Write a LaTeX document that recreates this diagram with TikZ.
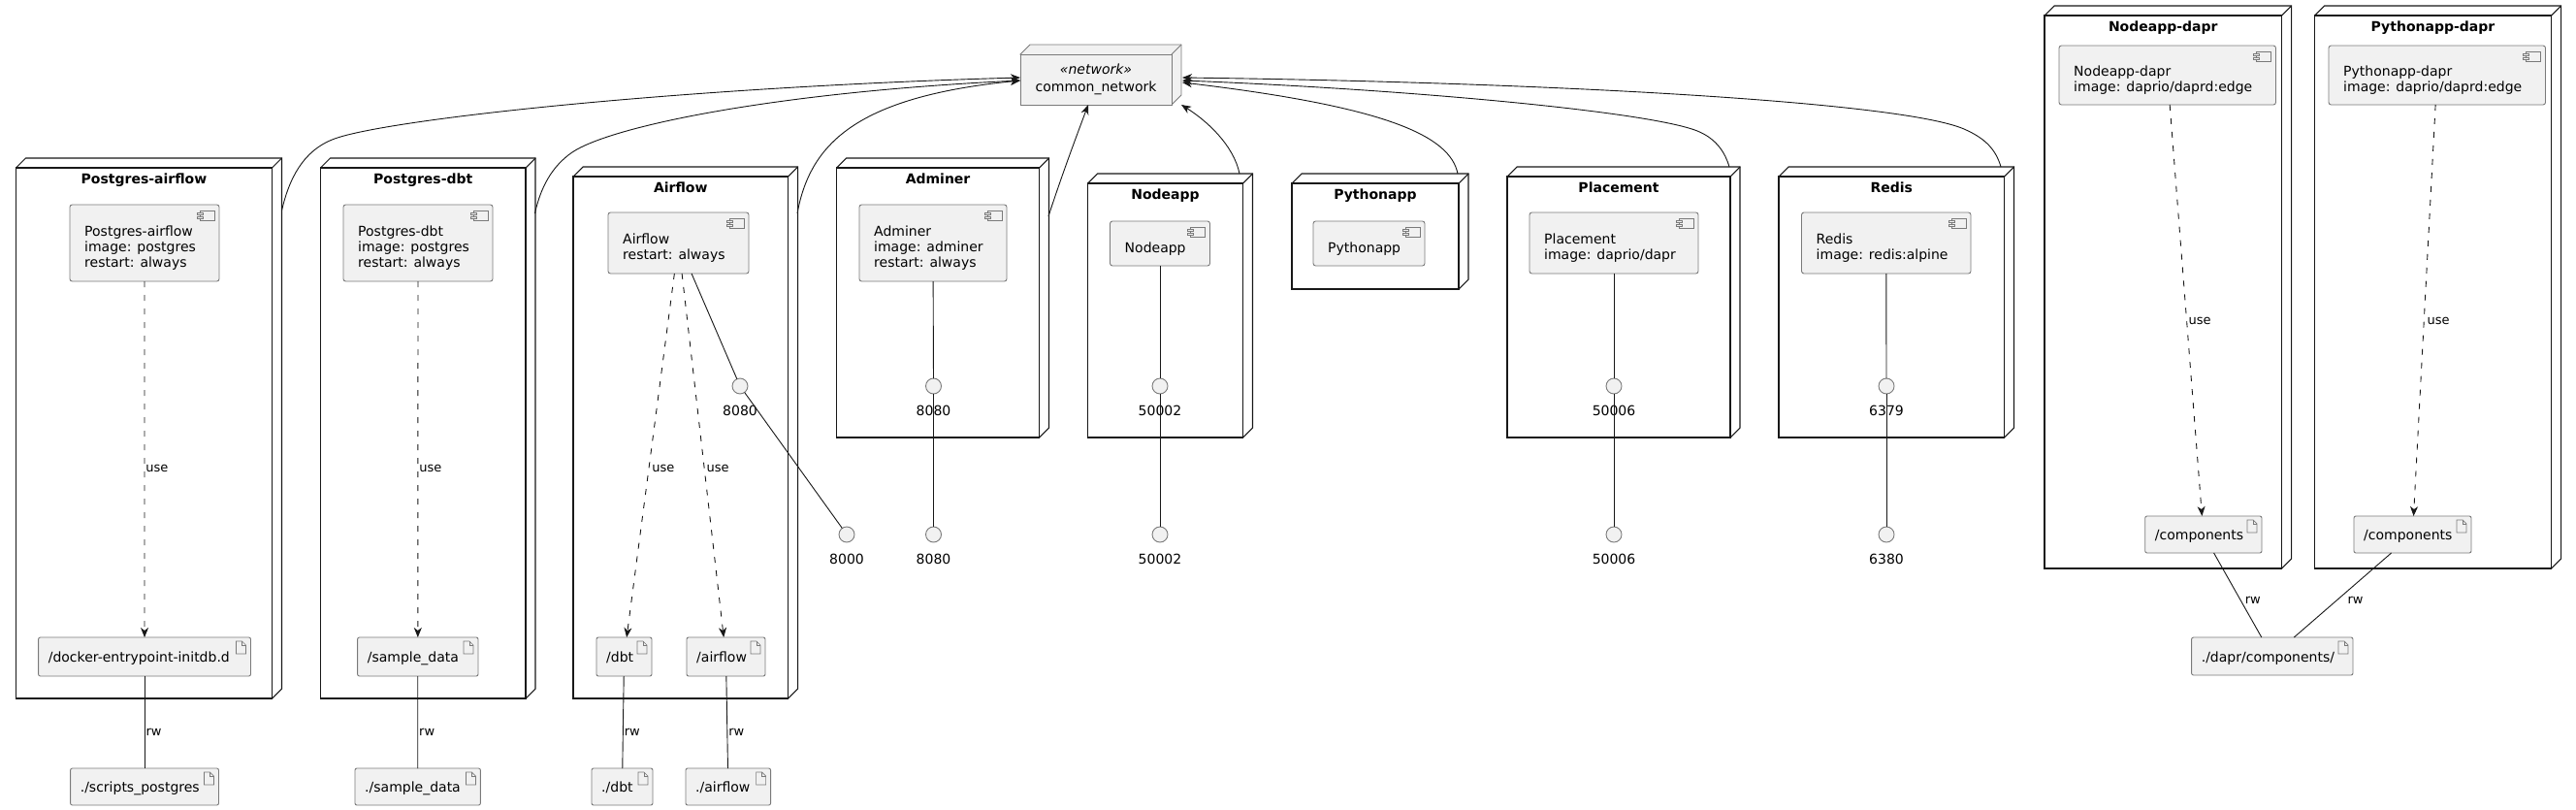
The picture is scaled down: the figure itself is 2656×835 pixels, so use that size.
\documentclass[tikz,border=0pt]{standalone}
\usepackage{fontspec}
\setmainfont{DejaVu Sans}
\usetikzlibrary{calc,arrows.meta}
\definecolor{cfill}{HTML}{F1F1F1}
\definecolor{cline}{HTML}{181818}
\definecolor{cgray}{HTML}{7A7A7A}
\tikzset{
  contbox/.style={draw=cline, line width=1.05pt, fill=white, rectangle, inner sep=0pt, outer sep=0pt},
  contline/.style={draw=cline, line width=1.05pt, line join=miter},
  conttitle/.style={font=\fontsize{14}{16}\selectfont\bfseries, inner sep=0pt, text height=10.5pt, text depth=3pt},
  compbox/.style={draw=cgray, line width=0.9pt, fill=cfill, rounded corners=2.5pt, rectangle, inner sep=0pt, outer sep=0pt},
  comptext/.style={font=\fontsize{14}{16}\selectfont, align=left, inner sep=0pt},
  arttext/.style={font=\fontsize{14}{16}\selectfont, inner sep=0pt, text height=10.5pt, text depth=3pt},
  iconstyle/.style={draw=cgray, line width=0.7pt, fill=cfill},
  iface/.style={circle, draw=cgray, line width=0.9pt, fill=cfill, minimum size=16pt, inner sep=0pt, outer sep=0pt},
  portlbl/.style={font=\fontsize{14}{16}\selectfont, inner sep=0pt, label distance=12pt},
  conn/.style={draw=cline, line width=0.9pt},
  usearrow/.style={conn, dash pattern=on 6pt off 8pt, -{Stealth[length=10pt,width=8pt,inset=3pt]}},
  netarrow/.style={conn, -{Stealth[length=10pt,width=8pt,inset=3pt]}},
  elbl/.style={font=\fontsize{13}{15}\selectfont, inner sep=0pt},
}
% container: name x1 y1 x2 y2 title
\newcommand\ctnr[6]{%
  \path[contline, fill=white] (#2,#3) -- ({#2+10},{#3-10}) -- ({#4+10},{#3-10}) -- ({#4+10},{#5-10}) -- (#4,#5) -- cycle;
  \node[contbox, minimum width={#4-#2}, minimum height={#5-#3}] (#1) at ({(#2+#4)/2},{(#3+#5)/2}) {};
  \draw[contline] (#4,#3) -- ({#4+10},{#3-10});
  \node[conttitle] at ({(#2+#4)/2},{#3+13}) {#6};
}
\newcommand\compicon[2]{%
  \draw[iconstyle] ({#1-20},{#2+6}) rectangle ({#1-5},{#2+16});
  \draw[iconstyle] ({#1-23},{#2+8}) rectangle ({#1-17},{#2+10});
  \draw[iconstyle] ({#1-23},{#2+12}) rectangle ({#1-17},{#2+14});
}
% component: name x1 y1 x2 y2 text
\newcommand\compo[6]{%
  \node[compbox, minimum width={#4-#2}, minimum height={#5-#3}] (#1) at ({(#2+#4)/2},{(#3+#5)/2}) {};
  \compicon{#4}{#3}
  \node[comptext, anchor=west] at ({#2+15},{(#3+#5)/2+5.5}) {#6};
}
\newcommand\articon[2]{%
  \draw[iconstyle] (#1,#2) -- ({#1+6},#2) -- ({#1+10},{#2+4}) -- ({#1+10},{#2+13}) -- (#1,{#2+13}) -- cycle;
  \draw[iconstyle, fill=none] ({#1+6},#2) -- ({#1+6},{#2+4}) -- ({#1+10},{#2+4});
}
% artifact: name x1 y1 x2 y2 text
\newcommand\artf[6]{%
  \node[compbox, rounded corners=2pt, minimum width={#4-#2}, minimum height={#5-#3}] (#1) at ({(#2+#4)/2},{(#3+#5)/2}) {};
  \node[arttext, anchor=west] at ({#2+10},{(#3+#5)/2+2}) {#6};
  \articon{#4-15}{#3+4}
}
\begin{document}
\begin{tikzpicture}[x=1pt,y=-1pt]
\fill[white] (0,0) rectangle (2656,835);
\useasboundingbox (0,0) rectangle (2656,835);

% network node
\path[fill=cfill, draw=cgray, line width=0.9pt] (1052,56) -- (1062,46) -- (1218,46) -- (1218,98) -- (1208,108) -- cycle;
\node[draw=cgray, fill=cfill, line width=0.9pt, minimum width=156pt, minimum height=52pt, inner sep=0pt, outer sep=0pt,
      font=\fontsize{14}{18}\selectfont, align=center] (net) at (1130,82) {{\itshape «network»}\\common\_network};
\draw[draw=cgray, line width=0.9pt] (1208,56) -- (1218,46);

% containers
\ctnr{kPA}{16.5}{173}{280.5}{720}{Postgres-airflow}
\ctnr{kPD}{330.5}{173}{542}{720}{Postgres-dbt}
\ctnr{kAF}{591}{182}{812.6}{720}{Airflow}
\ctnr{kAD}{862.6}{173}{1071.5}{451}{Adminer}
\ctnr{kND}{1121.5}{189}{1281.5}{451}{Nodeapp}
\ctnr{kPY}{1332}{189}{1504}{298}{Pythonapp}
\ctnr{kPL}{1554}{182}{1784}{451}{Placement}
\ctnr{kRD}{1834}{182}{2066.5}{451}{Redis}
\ctnr{kNDD}{2108}{16}{2352.5}{586}{Nodeapp-dapr}
\ctnr{kPYD}{2386.5}{16}{2630.5}{586}{Pythonapp-dapr}

% components
\compo{cPA}{72}{211}{226}{290}{Postgres-airflow\\image: postgres\\restart: always}
\compo{cPD}{354}{211}{508}{290}{Postgres-dbt\\image: postgres\\restart: always}
\compo{cAF}{627}{219}{772}{282}{Airflow\\restart: always}
\compo{cAD}{886}{211}{1038}{290}{Adminer\\image: adminer\\restart: always}
\compo{cND}{1144.5}{228}{1247.5}{274}{Nodeapp}
\compo{cPY}{1354}{228}{1469}{274}{Pythonapp}
\compo{cPL}{1577}{219}{1751}{282}{Placement\\image: daprio/dapr}
\compo{cRD}{1857.5}{219}{2032}{282}{Redis\\image: redis:alpine}
\compo{cNDD}{2123}{47}{2346.5}{108}{Nodeapp-dapr\\image: daprio/daprd:edge}
\compo{cPYD}{2401}{47}{2624.5}{108}{Pythonapp-dapr\\image: daprio/daprd:edge}

% artifacts
\artf{aPA}{39.6}{657}{258.5}{697}{/docker-entrypoint-initdb.d}
\artf{aPD}{368.6}{657}{493}{697}{/sample\_data}
\artf{aAD}{615}{657}{672}{697}{/dbt}
\artf{aAA}{708}{657}{789}{697}{/airflow}
\artf{hSP}{72.6}{792}{225.5}{830}{./scripts\_postgres}
\artf{hSD}{366}{792}{495.4}{830}{./sample\_data}
\artf{hDB}{610}{792}{673}{830}{./dbt}
\artf{hAF}{707}{792}{794.6}{830}{./airflow}
\artf{aND}{2211.7}{532}{2332}{570}{/components}
\artf{aPY}{2427}{532}{2548}{570}{/components}
\artf{hDC}{2259.6}{657}{2426}{696}{./dapr/components/}

% interfaces
\node[iface, label={[portlbl]below:8080}] (iAF) at (763,398) {};
\node[iface, label={[portlbl]below:8080}] (iAD) at (962.5,398) {};
\node[iface, label={[portlbl]below:50002}] (iND) at (1196,398) {};
\node[iface, label={[portlbl]below:50006}] (iPL) at (1664,398) {};
\node[iface, label={[portlbl]below:6379}] (iRD) at (1945,398) {};
\node[iface, label={[portlbl]below:8000}] (oAF) at (873,551) {};
\node[iface, label={[portlbl]below:8080}] (oAD) at (962.5,551) {};
\node[iface, label={[portlbl]below:50002}] (oND) at (1196,551) {};
\node[iface, label={[portlbl]below:50006}] (oPL) at (1664,551) {};
\node[iface, label={[portlbl]below:6380}] (oRD) at (1945,551) {};

% component - interface links
\draw[conn] (cAF) -- (iAF);
\draw[conn] (iAF) -- (oAF);
\draw[conn] (cAD) -- (iAD);
\draw[conn] (iAD) -- (oAD);
\draw[conn] (cND) -- (iND);
\draw[conn] (iND) -- (oND);
\draw[conn] (cPL) -- (iPL);
\draw[conn] (iPL) -- (oPL);
\draw[conn] (cRD) -- (iRD);
\draw[conn] (iRD) -- (oRD);

% use arrows
\draw[usearrow] (cPA) -- node[elbl, pos=0.526, anchor=west, xshift=1pt] {use} (aPA);
\draw[usearrow] (cPD) -- node[elbl, pos=0.526, anchor=west, xshift=1pt] {use} (aPD);
\draw[usearrow] (cAF) -- node[elbl, pos=0.536, anchor=west, xshift=3pt] {use} (aAD);
\draw[usearrow] (cAF) -- node[elbl, pos=0.536, anchor=west, xshift=2pt] {use} (aAA);
\draw[usearrow] (cNDD) -- node[elbl, pos=0.526, anchor=west, xshift=1.5pt] {use} (aND);
\draw[usearrow] (cPYD) -- node[elbl, pos=0.526, anchor=west, xshift=3pt] {use} (aPY);

% rw links
\draw[conn] (aPA) -- node[elbl, pos=0.61, anchor=west, xshift=1pt] {rw} (hSP);
\draw[conn] (aPD) -- node[elbl, pos=0.61, anchor=west, xshift=1pt] {rw} (hSD);
\draw[conn] (aAD) -- node[elbl, pos=0.61, anchor=west, xshift=1pt] {rw} (hDB);
\draw[conn] (aAA) -- node[elbl, pos=0.61, anchor=west, xshift=1pt] {rw} (hAF);
\draw[conn] (aND) -- node[elbl, pos=0.563, anchor=west, xshift=4pt] {rw} (hDC);
\draw[conn] (aPY) -- node[elbl, pos=0.563, anchor=west, xshift=11pt] {rw} (hDC);

% network links
\draw[netarrow] ($(kPA.north east)+(10,44)$) .. controls (298,185) and (312,155) .. (345,143)
   .. controls (400,123) and (700,90) .. ($(net.west)+(0,-2)$);
\draw[netarrow] ($(kPD.north east)+(9.5,47)$) .. controls (557,195) and (568,172) .. (590,157)
   .. controls (630,130) and (800,95) .. ($(net.west)+(0,1)$);
\draw[netarrow] ($(kAF.north east)+(9.4,38)$) .. controls (835,150) and (880,100) .. ($(net.west)+(0,1)$);
\draw[netarrow] ($(kAD.north east)+(9.5,50)$) .. controls (1095,180) and (1110,140) .. ($(net.south)+(-8,0)$);
\draw[netarrow] ($(kND.north east)+(-3.5,-10)$) .. controls (1272,150) and (1245,125) .. ($(net.south east)+(10,0)$);
\draw[netarrow] ($(kPY.north east)+(-1,-10)$) .. controls (1495,140) and (1430,110) .. ($(net.east)+(11,3)$);
\draw[netarrow] ($(kPL.north east)+(-1,-10)$) .. controls (1779,158) and (1770,143) .. (1750,135)
   .. controls (1700,115) and (1450,92) .. ($(net.east)+(11,1)$);
\draw[netarrow] ($(kRD.north east)+(-3.5,-10)$) .. controls (2058,155) and (2048,143) .. (2025,133)
   .. controls (1960,105) and (1600,85) .. ($(net.east)+(11,-2)$);
\end{tikzpicture}
\end{document}
